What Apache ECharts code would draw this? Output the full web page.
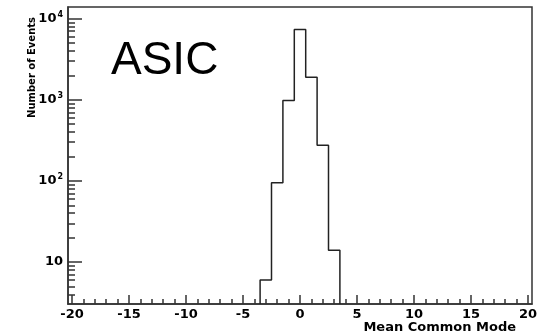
<!DOCTYPE html>
<html>
<head>
<meta charset="utf-8">
<script src="https://cdn.jsdelivr.net/npm/echarts@6/dist/echarts.min.js"></script>
<style>
  html, body { margin: 0; padding: 0; background: #fff; }
  #chart { width: 545px; height: 336px; }
</style>
</head>
<body>
<div id="chart"></div>
<script>
// histogram bins (width 1, centred on integers), counts
const binCenters = [-3, -2, -1, 0, 1, 2, 3]
const counts = [6, 95, 980, 7330, 1900, 275, 14]

const xMajorTicks = [-20, -15, -10, -5, 0, 5, 10, 15, 20]
const xMinorTicks = []
for (let v = -20; v <= 20; v++) xMinorTicks.push(v)
const yMajorTicks = [10, 100, 1000, 10000]
const yMinorTicks = [4, 5, 6, 7, 8, 9, 20, 30, 40, 50, 60, 70, 80, 90,
  200, 300, 400, 500, 600, 700, 800, 900, 2000, 3000, 4000, 5000, 6000, 7000, 8000, 9000]

const xMin = -20.35
const xMax = 20.35
const yMin = 3.04
const yMax = 13900

// step outline: start on the baseline, walk the bin edges, drop back at the end
const outline = [[binCenters[0] - 0.5, yMin]]
binCenters.forEach((c, i) => outline.push([c - 0.5, counts[i]]))
const last = binCenters.length - 1
outline.push([binCenters[last] + 0.5, counts[last]])
outline.push([binCenters[last] + 0.5, yMin])

const lineColor = '#333'
const font = '"Liberation Sans", Arial, sans-serif'
const boldFont = '"DejaVu Sans", sans-serif'

const chart = echarts.init(document.getElementById('chart'))

const option = {
  animation: false,
  grid: {
    left: 68, right: 13, top: 7, bottom: 32,
    show: true, borderColor: lineColor, borderWidth: 1.5, backgroundColor: 'transparent'
  },
  title: {
    text: 'ASIC',
    left: 106, top: 33,
    textStyle: { fontFamily: font, fontSize: 46, fontWeight: 'normal', color: '#000' }
  },
  graphic: [{
    type: 'text',
    x: 32, y: 17,
    rotation: Math.PI / 2,
    style: {
      text: 'Number of Events',
      font: 'bold 10px "DejaVu Sans", sans-serif',
      fill: '#000',
      align: 'right',
      verticalAlign: 'middle'
    }
  }],
  xAxis: [{
    type: 'value',
    min: xMin, max: xMax,
    splitLine: { show: false },
    axisLine: { show: true, onZero: false, lineStyle: { color: lineColor, width: 1.5 } },
    axisTick: { show: true, inside: true, length: 9, customValues: xMajorTicks, lineStyle: { color: lineColor, width: 1.5 } },
    axisLabel: {
      customValues: xMajorTicks, margin: 4,
      fontFamily: boldFont, fontWeight: 'bold', fontSize: 13, color: '#000'
    },
    name: 'Mean Common Mode',
    nameLocation: 'end',
    nameGap: -16,
    nameTextStyle: {
      fontFamily: boldFont, fontWeight: 'bold', fontSize: 13, color: '#000',
      align: 'right', verticalAlign: 'top', padding: [17, 0, 0, 0]
    }
  }, {
    type: 'value',
    min: xMin, max: xMax,
    position: 'bottom',
    splitLine: { show: false },
    axisLine: { show: false, onZero: false },
    axisTick: { show: true, inside: true, length: 5, customValues: xMinorTicks, lineStyle: { color: lineColor, width: 1.5 } },
    axisLabel: { show: false }
  }],
  yAxis: [{
    type: 'log',
    logBase: 10,
    min: yMin, max: yMax,
    splitLine: { show: false },
    axisLine: { show: true, onZero: false, lineStyle: { color: lineColor, width: 1.5 } },
    axisTick: { show: true, inside: true, length: 14, customValues: yMajorTicks, lineStyle: { color: lineColor, width: 1.5 } },
    axisLabel: {
      customValues: yMajorTicks, margin: 5,
      formatter: (v) => {
        const p = Math.round(Math.log10(v))
        return p === 1 ? '{b|10}' : '{b|10}{s|' + p + '}'
      },
      rich: {
        b: { fontFamily: boldFont, fontWeight: 'bold', fontSize: 13, color: '#000' },
        s: { fontFamily: boldFont, fontWeight: 'bold', fontSize: 8, color: '#000', verticalAlign: 'top', padding: [0, 0, 8, 1] }
      }
    }
  }, {
    type: 'log',
    logBase: 10,
    min: yMin, max: yMax,
    position: 'left',
    splitLine: { show: false },
    axisLine: { show: false, onZero: false },
    axisTick: { show: true, inside: true, length: 7, customValues: yMinorTicks, lineStyle: { color: lineColor, width: 1.5 } },
    axisLabel: { show: false }
  }],
  series: [{
    type: 'line',
    data: outline,
    step: 'end',
    symbol: 'none',
    clip: true,
    lineStyle: { color: '#222', width: 1.5 }
  }]
}

chart.setOption(option)
</script>
</body>
</html>
